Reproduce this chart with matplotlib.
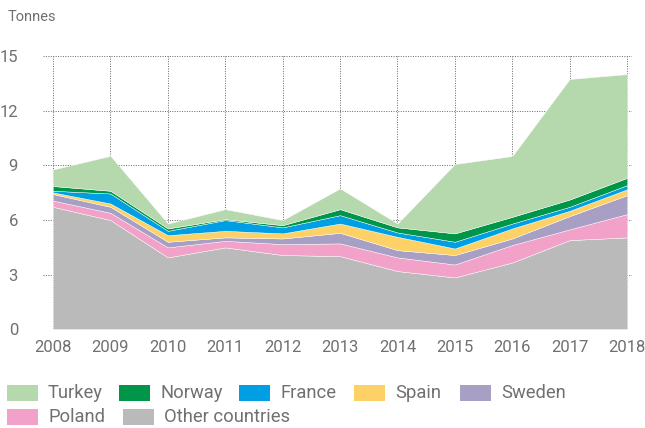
import matplotlib
matplotlib.use("Agg")
import matplotlib.pyplot as plt
from matplotlib.patches import Rectangle

years = [2008, 2009, 2010, 2011, 2012, 2013, 2014, 2015, 2016, 2017, 2018]

other = [6.72, 5.99, 3.94, 4.49, 4.07, 4.01, 3.19, 2.84, 3.66, 4.89, 5.04]
poland = [0.34, 0.40, 0.55, 0.36, 0.60, 0.70, 0.75, 0.71, 0.96, 0.59, 1.28]
sweden = [0.36, 0.33, 0.31, 0.19, 0.31, 0.58, 0.40, 0.52, 0.36, 0.73, 1.04]
spain = [0.09, 0.18, 0.36, 0.36, 0.28, 0.51, 0.73, 0.36, 0.55, 0.29, 0.32]
france = [0.09, 0.55, 0.24, 0.59, 0.33, 0.46, 0.24, 0.37, 0.27, 0.22, 0.23]
norway = [0.26, 0.15, 0.13, 0.05, 0.12, 0.33, 0.28, 0.46, 0.37, 0.40, 0.40]
turkey = [0.91, 1.92, 0.27, 0.55, 0.28, 1.14, 0.21, 3.81, 3.34, 6.62, 5.70]

series = [other, poland, sweden, spain, france, norway, turkey]
names = ["Other countries", "Poland", "Sweden", "Spain", "France", "Norway", "Turkey"]
colors = ["#bababa", "#f2a2c8", "#a8a0c4", "#fdd166", "#009fe3", "#00964a", "#b5d8ad"]

yticks = [0, 3, 6, 9, 12, 15]

plt.rcParams["font.family"] = ["Roboto", "DejaVu Sans"]
text_color = "#707070"

fig = plt.figure(figsize=(6.45, 4.28), dpi=100)
ax = fig.add_axes([0.0667, 0.231, 0.9133, 0.638])

ax.stackplot(years, *series, colors=colors, edgecolor="white", linewidth=0.3, zorder=2)

ax.set_xlim(2008 - 10 / 57.4, 2018 + 5 / 57.4)
ax.set_ylim(0, 15)
ax.set_xticks(years)
ax.set_yticks(yticks)
ax.grid(True, linestyle=(0, (1, 1.5)), color="#666666", linewidth=0.7, zorder=1)
ax.set_axisbelow(True)
for s in ax.spines.values():
    s.set_visible(False)
ax.tick_params(length=0, labelsize=12, labelcolor=text_color, pad=8)
ax.tick_params(axis="y", pad=18)

fig.text(8 / 645, 1 - 17 / 428, "Tonnes", fontsize=10.5, color=text_color,
         ha="left", va="center")

# legend laid out in two rows
legend_rows = [
    [("Turkey", 7), ("Norway", 119), ("France", 239), ("Spain", 354), ("Sweden", 460)],
    [("Poland", 7), ("Other countries", 123)],
]
row_y = [393, 417]
W, H = 645, 428
for row, yc in zip(legend_rows, row_y):
    for name, x0 in row:
        c = colors[names.index(name)]
        fig.patches.append(Rectangle((x0 / W, 1 - (yc + 8) / H), 31 / W, 16 / H,
                                     transform=fig.transFigure, facecolor=c,
                                     edgecolor="none"))
        fig.text((x0 + 41) / W, 1 - yc / H, name, fontsize=13.2, color=text_color,
                 ha="left", va="center")

fig.savefig("out.png", dpi=100)
